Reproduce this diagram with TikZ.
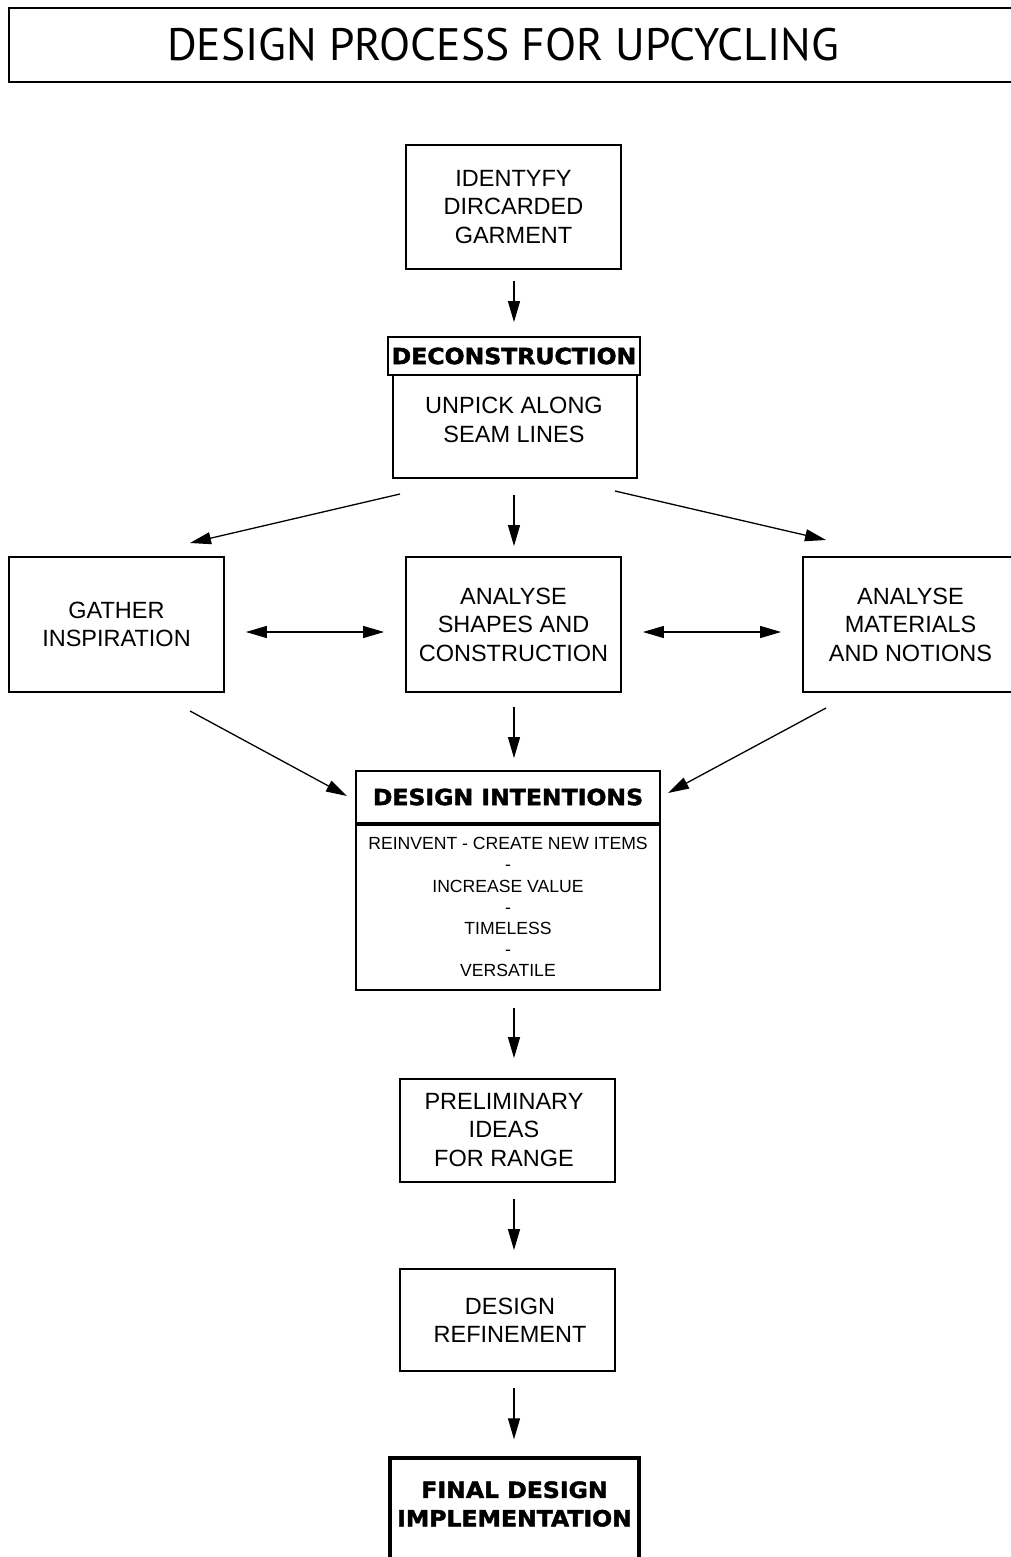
\documentclass[tikz,border=0pt]{standalone}
\usepackage{fontspec}
\setmainfont{Liberation Sans}
\newfontfamily\titlefont{PT Sans}
\newfontfamily\heavyfont[FakeStretch=1.06, FakeBold=2]{DejaVu Sans}
\usetikzlibrary{arrows.meta}
\tikzset{
  x=1pt, y=-1pt,
  box/.style={draw, line width=1.8pt, rectangle, inner sep=0pt, align=center,
    font=\fontsize{23.5}{28.5}\selectfont},
  frame/.style={draw, line width=1.8pt, rectangle, inner sep=0pt},
  headbox/.style={draw, line width=1.8pt, rectangle, inner sep=0pt, align=center,
    font=\heavyfont\bfseries\fontsize{22.2}{28.5}\selectfont},
  txt/.style={inner sep=0pt, align=center, font=\fontsize{23.5}{28.5}\selectfont},
  flow/.style={line width=1.3pt, -{Triangle[length=21pt,width=12pt]}},
  flowboth/.style={line width=1.3pt, {Triangle[length=21pt,width=12pt]}-{Triangle[length=21pt,width=12pt]}},
}
\begin{document}
\begin{tikzpicture}
\useasboundingbox (0,0) rectangle (1011,1557);
\fill[white] (0,0) rectangle (1011,1557);

% title banner
\node[frame, minimum width=1012pt, minimum height=74pt] (title) at (515,45) {};
\node[inner sep=0pt, font=\titlefont\fontsize{45.5}{50}\selectfont] (titletext) at (503,45)
  {DESIGN PROCESS FOR UPCYCLING};

% first step
\node[box, minimum width=215pt, minimum height=124pt] (identify) at (513.5,207)
  {IDENTYFY\\DIRCARDED\\GARMENT};

% deconstruction
\node[frame, minimum width=244pt, minimum height=103pt] (deconbody) at (515,426.5) {};
\node[headbox, fill=white, minimum width=252pt, minimum height=38pt] (decon) at (514,356) {DECONSTRUCTION};
\node[txt] (deconbodytext) at (514,420) {UNPICK ALONG\\SEAM LINES};

% analysis row
\node[box, minimum width=215pt, minimum height=135pt] (gather) at (116.5,624.5) {GATHER\\INSPIRATION};
\node[box, minimum width=215pt, minimum height=135pt] (shapes) at (513.5,624.5) {ANALYSE\\SHAPES AND\\CONSTRUCTION};
\node[box, minimum width=215pt, minimum height=135pt] (materials) at (910.5,624.5) {ANALYSE\\MATERIALS\\AND NOTIONS};

% design intentions
\node[headbox, minimum width=304pt, minimum height=52pt] (intent) at (508,797) {DESIGN INTENTIONS};
\node[draw, line width=1.8pt, minimum width=304pt, minimum height=165pt, inner sep=0pt, align=center,
  font=\fontsize{17.6}{21.2}\selectfont, anchor=north] (intentbody) at (intent.south)
  {REINVENT - CREATE NEW ITEMS\\-\\INCREASE VALUE\\-\\TIMELESS\\-\\VERSATILE};

% later steps
\node[frame, minimum width=215pt, minimum height=103pt] (prelim) at (507.5,1130.5) {};
\node[txt] (prelimtext) at (504,1130) {PRELIMINARY\\IDEAS\\FOR RANGE};
\node[frame, minimum width=215pt, minimum height=102pt] (refine) at (507.5,1320) {};
\node[txt] (refinetext) at (510,1320.5) {DESIGN\\REFINEMENT};
\node[draw, line width=3.4pt, minimum width=249pt, minimum height=140pt, inner sep=0pt] (final) at (514.5,1528) {};
\node[inner sep=0pt, align=center, font=\heavyfont\bfseries\fontsize{22.2}{28.5}\selectfont] (finaltext) at (514.5,1504)
  {FINAL DESIGN\\IMPLEMENTATION};

% free ends of the slanted connectors
\coordinate (dl0) at (400,494);
\coordinate (dl1) at (190,543);
\coordinate (dr0) at (615,491);
\coordinate (dr1) at (826,540);
\coordinate (il0) at (190,711);
\coordinate (il1) at (347,796);
\coordinate (ir0) at (826,708);
\coordinate (ir1) at (668,793);

% connectors
\draw[flow, shorten <=11pt, shorten >=14pt] (identify.south -| 514,0) -- (decon.north -| 514,0);
\draw[flow, shorten <=16pt, shorten >=10pt] (deconbody.south -| 514,0) -- (shapes.north -| 514,0);
\draw[flow] (dl0) -- (dl1);
\draw[flow] (dr0) -- (dr1);
\draw[flowboth, shorten <=21pt, shorten >=21pt] (gather.east |- 0,632) -- (shapes.west |- 0,632);
\draw[flowboth, shorten <=21pt, shorten >=21pt] (shapes.east |- 0,632) -- (materials.west |- 0,632);
\draw[flow, shorten <=14pt, shorten >=12pt] (shapes.south -| 514,0) -- (intent.north -| 514,0);
\draw[flow] (il0) -- (il1);
\draw[flow] (ir0) -- (ir1);
\draw[flow, shorten <=17pt, shorten >=20pt] (intentbody.south -| 514,0) -- (prelim.north -| 514,0);
\draw[flow, shorten <=16pt, shorten >=18pt] (prelim.south -| 514,0) -- (refine.north -| 514,0);
\draw[flow, shorten <=16pt, shorten >=17pt] (refine.south -| 514,0) -- (final.north -| 514,0);
\end{tikzpicture}
\end{document}
